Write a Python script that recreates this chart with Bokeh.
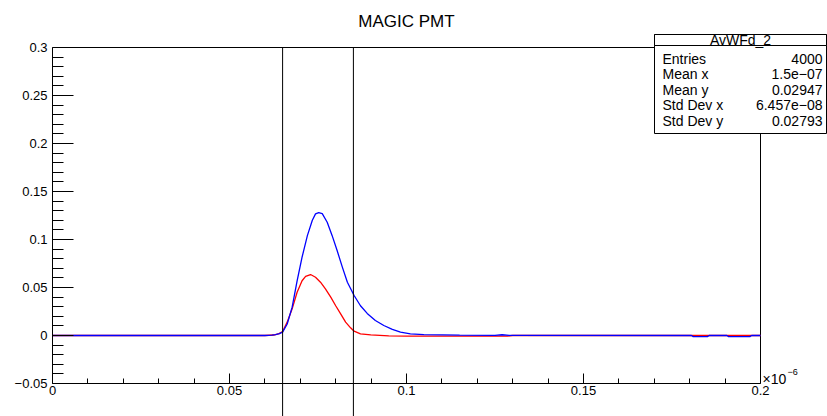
from bokeh.plotting import figure
from bokeh.models import Range1d, LinearAxis, FixedTicker, Label, BoxAnnotation, CustomJSTickFormatter
from bokeh.embed import file_html
from bokeh.resources import INLINE

# ---------------- data (x in units of 1e-6 s) ----------------
title_text = "MAGIC PMT"

blue_x = [0.0, 0.0600, 0.0620, 0.0630, 0.0641, 0.0650, 0.0663, 0.0677, 0.0691, 0.0705,
          0.0720, 0.0734, 0.0743, 0.0752, 0.0762, 0.0776, 0.0790, 0.0804, 0.0819, 0.0833,
          0.0852, 0.0870, 0.0889, 0.0912, 0.0936, 0.0960, 0.0983, 0.1011, 0.1049, 0.1100,
          0.1150, 0.1250, 0.1270, 0.1290, 0.1805, 0.1810, 0.1850, 0.1855, 0.1905, 0.1910,
          0.1970, 0.1975, 0.2000]
blue_y = [0.0, 0.0, 0.0003, 0.0010, 0.0020, 0.0035, 0.0120, 0.0295, 0.0570, 0.0816,
          0.1040, 0.1200, 0.1267, 0.1280, 0.1270, 0.1180, 0.1040, 0.0885, 0.0710, 0.0555,
          0.0417, 0.0310, 0.0230, 0.0156, 0.0104, 0.0063, 0.0035, 0.0017, 0.0010, 0.0006,
          0.0003, 0.0002, 0.0008, 0.0002, 0.0, -0.0012, -0.0012, 0.0, 0.0, -0.0012,
          -0.0012, 0.0, 0.0]

red_x = [0.0, 0.0600, 0.0625, 0.0640, 0.0650, 0.0663, 0.0677, 0.0691, 0.0705, 0.0715,
         0.0729, 0.0743, 0.0757, 0.0771, 0.0786, 0.0800, 0.0814, 0.0828, 0.0842, 0.0852,
         0.0870, 0.0899, 0.0950, 0.1000, 0.1285, 0.1300, 0.2000]
red_y = [0.0, 0.0, 0.0005, 0.0020, 0.0042, 0.0139, 0.0278, 0.0450, 0.0570, 0.0615,
         0.0635, 0.0607, 0.0555, 0.0486, 0.0400, 0.0310, 0.0226, 0.0139, 0.0080, 0.0045,
         0.0017, 0.0006, -0.0004, -0.0006, -0.0006, 0.0, 0.0]

cut_x = [0.065, 0.085]

x_ticks = [0.0, 0.05, 0.1, 0.15, 0.2]
x_tick_labels = ["0", "0.05", "0.1", "0.15", "0.2"]
x_minor_ticks = [0.01, 0.02, 0.03, 0.04, 0.06, 0.07, 0.08, 0.09, 0.11, 0.12, 0.13, 0.14,
                 0.16, 0.17, 0.18, 0.19]
y_ticks = [-0.05, 0.0, 0.05, 0.1, 0.15, 0.2, 0.25, 0.3]
y_tick_labels = ["\u22120.05", "0", "0.05", "0.1", "0.15", "0.2", "0.25", "0.3"]
y_minor_ticks = [-0.04, -0.03, -0.02, -0.01, 0.01, 0.02, 0.03, 0.04, 0.06, 0.07, 0.08, 0.09,
                 0.11, 0.12, 0.13, 0.14, 0.16, 0.17, 0.18, 0.19, 0.21, 0.22, 0.23, 0.24,
                 0.26, 0.27, 0.28, 0.29]
x_exponent = "\u00d710"
x_exponent_power = "\u22126"

stats_title = "AvWFd_2"
stat_names = ["Entries", "Mean x", "Mean y", "Std Dev x", "Std Dev y"]
stat_values = ["4000", "1.5e\u221207", "0.02947", "6.457e\u221208", "0.02793"]

# ---------------- layout ----------------
W, H = 827, 416
x_lo, x_hi = 0.0, 0.2
y_lo, y_hi = -0.05, 0.3
# frame covers the whole canvas; axes drawn at fixed data locations
px_x = 3540.0   # px per x unit
px_y = 960.0    # px per y unit
left_px, top_px = 52.0, 47.0
x_start = x_lo - left_px / px_x
x_end = x_start + W / px_x
y_end = y_hi + top_px / px_y
y_start = y_end - H / px_y

FONT = "Liberation Sans"

p = figure(width=W, height=H, x_range=Range1d(x_start, x_end), y_range=Range1d(y_start, y_end),
           output_backend="svg", toolbar_location=None, x_axis_location=None,
           y_axis_location=None, min_border=0, outline_line_color=None)
p.xgrid.visible = False
p.ygrid.visible = False
p.background_fill_color = "white"
p.border_fill_color = "white"


def fmt(tick_vals, tick_texts):
    return CustomJSTickFormatter(args=dict(tvals=tick_vals, ttexts=tick_texts), code="""
        for (let i = 0; i < tvals.length; i++) {
            if (Math.abs(tvals[i] - tick) < 1e-9) return ttexts[i];
        }
        return "";
    """)


xaxis = LinearAxis(fixed_location=y_lo, bounds=(x_lo, x_hi),
                   ticker=FixedTicker(ticks=x_ticks, minor_ticks=x_minor_ticks),
                   formatter=fmt(x_ticks, x_tick_labels),
                   major_tick_in=10, major_tick_out=0, minor_tick_in=5, minor_tick_out=0,
                   major_label_standoff=2, axis_line_color="black", major_tick_line_color="black",
                   minor_tick_line_color="black",
                   major_label_text_font=FONT, major_label_text_font_size="13px",
                   major_label_text_color="black")
yaxis = LinearAxis(fixed_location=x_lo, bounds=(y_lo, y_hi),
                   ticker=FixedTicker(ticks=y_ticks, minor_ticks=y_minor_ticks),
                   formatter=fmt(y_ticks, y_tick_labels),
                   major_tick_in=21, major_tick_out=0, minor_tick_in=11, minor_tick_out=0,
                   major_label_standoff=5, axis_line_color="black", major_tick_line_color="black",
                   minor_tick_line_color="black",
                   major_label_text_font=FONT, major_label_text_font_size="13px",
                   major_label_text_color="black")
p.add_layout(xaxis, "below")
p.add_layout(yaxis, "left")

# frame top and right edges
p.line([x_lo, x_hi, x_hi], [y_hi, y_hi, y_lo], line_color="black", line_width=1)

# curves
p.line(red_x, red_y, line_color="#ff0000", line_width=1.3)
p.line(blue_x, blue_y, line_color="#0000ff", line_width=1.3)

# cut lines
p.segment(x0=cut_x, y0=[y_hi] * len(cut_x), x1=cut_x, y1=[y_start] * len(cut_x),
          line_color="black", line_width=1)

# title
p.add_layout(Label(x=406, y=H - 20.5, x_units="screen", y_units="screen", text=title_text,
                   text_align="center", text_baseline="middle", text_font=FONT,
                   text_font_size="17px", text_color="black"))

# x exponent
p.add_layout(Label(x=762, y=H - 378.5, x_units="screen", y_units="screen", text=x_exponent,
                   text_align="left", text_baseline="middle", text_font=FONT,
                   text_font_size="14px", text_color="black"))
p.add_layout(Label(x=787, y=H - 371, x_units="screen", y_units="screen", text=x_exponent_power,
                   text_align="left", text_baseline="middle", text_font=FONT,
                   text_font_size="9px", text_color="black"))

# stats box
bx0, bx1, by0, by1, bhead = 654, 826, 34, 133, 45
p.add_layout(BoxAnnotation(left=bx0, right=bx1, top=H - by0, bottom=H - by1,
                           left_units="screen", right_units="screen", top_units="screen",
                           bottom_units="screen", fill_color="white", fill_alpha=1.0,
                           line_color="black", line_width=1, line_alpha=1.0))
p.add_layout(BoxAnnotation(left=bx0, right=bx1, top=H - by0, bottom=H - bhead,
                           left_units="screen", right_units="screen", top_units="screen",
                           bottom_units="screen", fill_color="white", fill_alpha=1.0,
                           line_color="black", line_width=1, line_alpha=1.0))
p.add_layout(Label(x=(bx0 + bx1) / 2, y=H - 39.5, x_units="screen", y_units="screen",
                   text=stats_title, text_align="center", text_baseline="middle",
                   text_font=FONT, text_font_size="14px", text_color="black"))
row_y0, row_dy = 58.0, 15.5
for i, (n, v) in enumerate(zip(stat_names, stat_values)):
    yy = H - (row_y0 + i * row_dy)
    p.add_layout(Label(x=bx0 + 8, y=yy, x_units="screen", y_units="screen", text=n,
                       text_align="left", text_baseline="middle", text_font=FONT,
                       text_font_size="14px", text_color="black"))
    p.add_layout(Label(x=bx1 - 4, y=yy, x_units="screen", y_units="screen", text=v,
                       text_align="right", text_baseline="middle", text_font=FONT,
                       text_font_size="14px", text_color="black"))

open("out.html", "w").write(file_html(p, INLINE))
